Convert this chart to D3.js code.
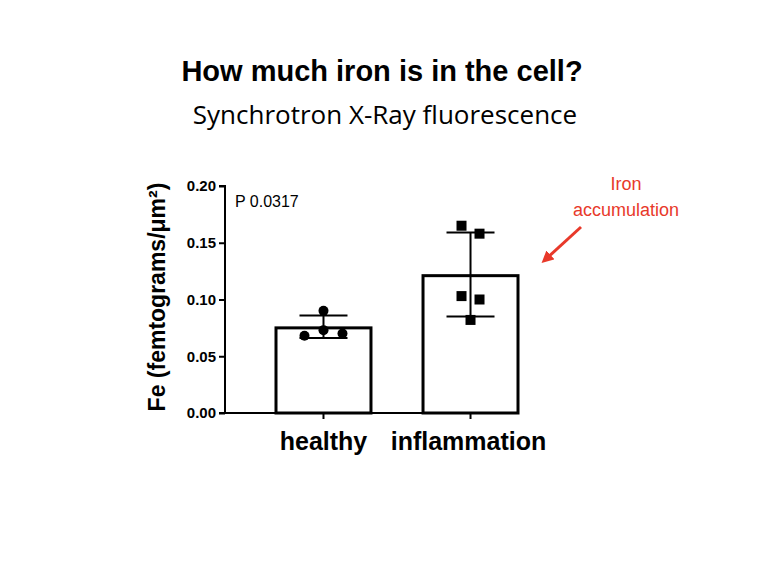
<!DOCTYPE html><html><head><meta charset="utf-8"><script src="https://cdn.jsdelivr.net/npm/d3@7"></script>
<style>body{margin:0;background:#fff}</style></head><body><script>
const categories=["healthy","inflammation"];
const means=[0.075,0.121];
const sdLow=[0.066,0.085];
const sdHigh=[0.086,0.159];
const healthyPts=[0.068,0.073,0.090,0.070];
const inflamPts=[0.165,0.158,0.103,0.100,0.082];
const yTicks=[0,0.05,0.10,0.15,0.20];
const W=764,H=568;
const svg=d3.select("body").append("svg").attr("width",W).attr("height",H);
const y=d3.scaleLinear().domain([0,0.2]).range([413,186]);
const x=d3.scaleBand().domain(categories).range([276,518]).paddingInner(0.354).paddingOuter(0);
svg.append("text").attr("x",382).attr("y",81).attr("text-anchor","middle").attr("font-family","Liberation Sans, Arial").attr("font-weight","bold").attr("font-size",29).text("How much iron is in the cell?");
svg.append("text").attr("x",385).attr("y",124).attr("text-anchor","middle").attr("font-family","Open Sans, sans-serif").attr("font-size",26).text("Synchrotron X-Ray fluorescence");
const g=svg.append("g");
g.selectAll("rect").data(categories).join("rect").attr("x",d=>x(d)).attr("width",x.bandwidth()).attr("y",(d,i)=>y(means[i])).attr("height",(d,i)=>y(0)-y(means[i])).attr("fill","#fff").attr("stroke","#000").attr("stroke-width",3);
categories.forEach((c,i)=>{const cx=x(c)+x.bandwidth()/2;
 g.append("line").attr("x1",cx).attr("x2",cx).attr("y1",y(sdLow[i])).attr("y2",y(sdHigh[i])).attr("stroke","#000").attr("stroke-width",2);
 [sdLow[i],sdHigh[i]].forEach(v=>g.append("line").attr("x1",cx-24).attr("x2",cx+24).attr("y1",y(v)).attr("y2",y(v)).attr("stroke","#000").attr("stroke-width",2));
});
const hc=x("healthy")+x.bandwidth()/2, ic=x("inflammation")+x.bandwidth()/2;
const hOff=[-19,0,0,19], iOff=[-9,9,-9,9,0];
healthyPts.forEach((v,i)=>g.append("circle").attr("cx",hc+hOff[i]).attr("cy",y(v)).attr("r",5).attr("fill","#000"));
inflamPts.forEach((v,i)=>g.append("rect").attr("x",ic+iOff[i]-5).attr("y",y(v)-5).attr("width",10).attr("height",10).attr("fill","#000"));
const ya=svg.append("g").attr("transform","translate(225,0)").call(d3.axisLeft(y).tickValues(yTicks).tickFormat(d3.format(".2f")).tickSize(6));
ya.select(".domain").attr("stroke-width",2).attr("d","M-6,186H0V413H-6");
ya.selectAll(".tick line").attr("stroke-width",2);
ya.selectAll("text").attr("font-family","Liberation Sans, Arial").attr("font-weight","bold").attr("font-size",15).attr("fill","#000");
svg.append("line").attr("x1",224).attr("x2",519).attr("y1",413).attr("y2",413).attr("stroke","#000").attr("stroke-width",2);
categories.forEach(c=>svg.append("line").attr("x1",x(c)+x.bandwidth()/2).attr("x2",x(c)+x.bandwidth()/2).attr("y1",413).attr("y2",419).attr("stroke","#000").attr("stroke-width",2));
svg.append("text").attr("x",hc).attr("y",450).attr("text-anchor","middle").attr("font-family","Liberation Sans, Arial").attr("font-weight","bold").attr("font-size",25).text("healthy");
svg.append("text").attr("x",ic-2).attr("y",450).attr("text-anchor","middle").attr("font-family","Liberation Sans, Arial").attr("font-weight","bold").attr("font-size",25).text("inflammation");
svg.append("text").attr("transform","translate(165,297) rotate(-90)").attr("text-anchor","middle").attr("font-family","Liberation Sans, Arial").attr("font-weight","bold").attr("font-size",23).text("Fe (femtograms/μm²)");
svg.append("text").attr("x",235).attr("y",207).attr("font-family","Liberation Sans, Arial").attr("font-size",16).text("P 0.0317");
svg.append("text").attr("x",626).attr("y",190).attr("text-anchor","middle").attr("font-family","Liberation Sans, Arial").attr("font-size",18).attr("fill","#e8392a").text("Iron");
svg.append("text").attr("x",626).attr("y",216).attr("text-anchor","middle").attr("font-family","Liberation Sans, Arial").attr("font-size",18).attr("fill","#e8392a").text("accumulation");
svg.append("defs").append("marker").attr("id","ah").attr("viewBox","0 0 10 10").attr("refX",5).attr("refY",5).attr("markerWidth",4).attr("markerHeight",4).attr("orient","auto").append("path").attr("d","M0,0L10,5L0,10z").attr("fill","#e8392a");
svg.append("line").attr("x1",581).attr("y1",227).attr("x2",546).attr("y2",259).attr("stroke","#e8392a").attr("stroke-width",3).attr("marker-end","url(#ah)");
</script></body></html>
